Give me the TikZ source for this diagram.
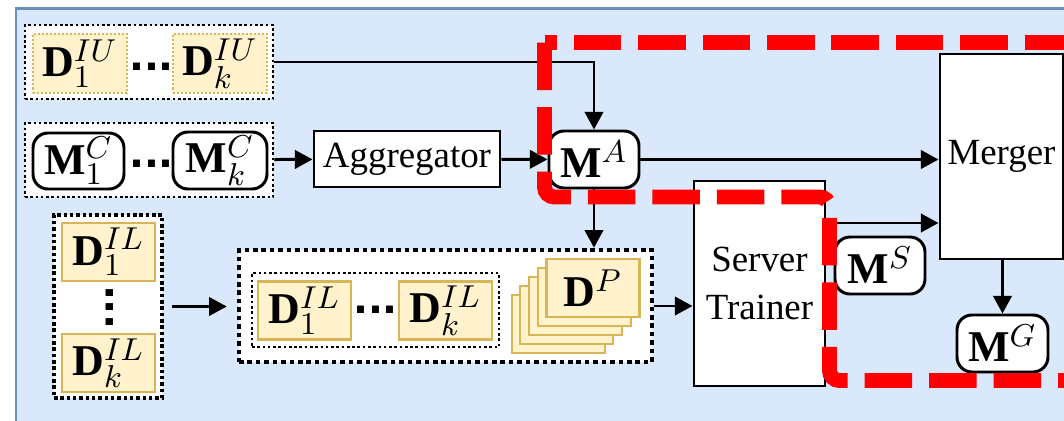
\documentclass[tikz,border=0pt]{standalone}
\usepackage{fontspec}
\setmainfont{Liberation Serif}
\newfontfamily\dotfont{DejaVu Sans}
\usetikzlibrary{arrows.meta,positioning}
\definecolor{panelfill}{HTML}{DAE8FC}
\definecolor{paneldraw}{HTML}{6C8EBF}
\definecolor{datafill}{HTML}{FFF2CC}
\definecolor{datadraw}{HTML}{D6B656}
\newcommand{\mth}[1]{{\fontsize{12.5}{15}\selectfont$#1$}}

\begin{document}
\begin{tikzpicture}[>={Triangle[length=5pt,width=5.2pt]},line width=0.85pt,
                    font=\fontsize{10.5}{13.6}\selectfont]
  \tikzstyle{block}=[draw,fill=white,inner sep=0pt,align=center]
  \tikzstyle{model}=[block,rounded corners=1.5mm,minimum width=9mm,minimum height=5.7mm]
  \tikzstyle{data}=[draw=datadraw,fill=datafill,line width=0.6pt,inner sep=0pt,
                    minimum width=9.3mm,minimum height=5.8mm]
  \tikzstyle{datadotted}=[data,dash pattern=on 0.57pt off 0.57pt]
  \tikzstyle{group}=[draw,fill=white,line width=0.8pt,dash pattern=on 0.75pt off 0.75pt,inner sep=0pt]
  \tikzstyle{dots}=[font=\dotfont\bfseries\fontsize{11.2}{12}\selectfont,inner sep=0pt,anchor=base]
  \tikzstyle{zone}=[draw=red,line width=4.25pt,dash pattern=on 4.75mm off 1.7mm,rounded corners=1mm]

  \useasboundingbox (0,0) rectangle (10.64,-4.21);
  \clip (0,0) rectangle (10.64,-4.21);
  \fill[white] (0,0) rectangle (10.64,-4.21);
  \filldraw[fill=panelfill,draw=paneldraw,line width=0.6pt] (0.16,-0.085) rectangle (11,-4.5);

  \node[group,minimum width=24.8mm,minimum height=7.4mm] (iu) at (1.49,-0.62) {};
  \node[datadotted,minimum width=9.4mm,minimum height=5.9mm] (iu1) at (0.80,-0.635) {\mth{\mathbf{D}^{IU}_1}};
  \node[datadotted,minimum width=9.4mm,minimum height=5.9mm] (iuk) at (2.20,-0.635) {\mth{\mathbf{D}^{IU}_k}};
  \node[dots] (iudots) at (1.515,-0.70) {...};

  \node[group,minimum width=24.8mm,minimum height=7.4mm] (mc) at (1.49,-1.60) {};
  \node[model,minimum width=9.1mm,minimum height=5.6mm] (mc1) at (0.785,-1.61) {\mth{\mathbf{M}^C_1}};
  \node[model,minimum width=9.4mm] (mck) at (2.20,-1.605) {\mth{\mathbf{M}^C_k}};
  \node[dots] (mcdots) at (1.515,-1.67) {...};

  \node[block,minimum width=18.6mm,minimum height=5.6mm] (agg) at (4.07,-1.59) {Aggregator};
  \node[model] (ma) at (5.94,-1.595) {\mth{\mathbf{M}^A}};
  \node[block,minimum width=12.3mm,minimum height=20.5mm] (merger) at (10.015,-1.565) {Merger};
  \node[block,minimum width=13.1mm,minimum height=20.5mm] (trainer) at (7.595,-2.835) {Server\\Trainer};
  \node[model] (ms) at (8.80,-2.655) {\mth{\mathbf{M}^S}};
  \node[model,minimum width=9.1mm] (mg) at (10.025,-3.435) {\mth{\mathbf{M}^G}};

  \node[group,line width=1pt,dash pattern=on 1pt off 0.8pt,minimum width=10.8mm,minimum height=18.3mm] (ilcol) at (1.08,-3.065) {};
  \node[data] (ilc1) at (1.085,-2.52) {\mth{\mathbf{D}^{IL}_1}};
  \node[data] (ilck) at (1.085,-3.63) {\mth{\mathbf{D}^{IL}_k}};
  \node[dots,rotate=90] (ilcdots) at (1.13,-3.075) {...};

  \node[group,line width=1.3pt,dash pattern=on 1.3pt off 1.1pt,minimum width=41.3mm,minimum height=11.2mm] (pool) at (4.455,-3.06) {};
  \node[group,minimum width=24.7mm,minimum height=7.4mm] (il) at (3.755,-3.10) {};
  \node[data] (il1) at (3.045,-3.105) {\mth{\mathbf{D}^{IL}_1}};
  \node[data] (ilk) at (4.455,-3.105) {\mth{\mathbf{D}^{IL}_k}};
  \node[dots] (ildots) at (3.755,-3.13) {...};
  \foreach \i in {4,...,1}
    \node[data,xshift=-\i*0.87mm,yshift=-\i*0.9mm] (dp\i) at (5.93,-2.88) {};
  \node[data] (dp) at (5.93,-2.88) {\mth{\mathbf{D}^P}};

  \draw[->] (iu.east) -| (ma.north);
  \draw[->] (mc) -- (agg);
  \draw[->] (agg) -- (ma);
  \draw[->] (ma.east) -- (ma.east -| merger.west);
  \draw[->] (ma.south) -- (ma.south |- pool.north);
  \draw[->,shorten <=0.8mm,shorten >=1mm] (ilcol.east) -- (ilcol.east -| pool.west);
  \draw[->] (pool.east) -- (pool.east -| trainer.west);
  \draw[->] ([yshift=6.05mm]trainer.east) -- ([yshift=6.05mm]trainer.east -| merger.west);
  \draw[->] (merger.south -| mg.north) -- (mg.north);

  \draw[zone] (5.445,-0.425) -- (5.445,-1.97) -- (8.295,-1.97) -- (8.295,-3.805) -- (10.9,-3.805);
  \draw[zone,dash phase=3.55mm] (5.445,-0.425) -- (10.9,-0.425);
\end{tikzpicture}
\end{document}
